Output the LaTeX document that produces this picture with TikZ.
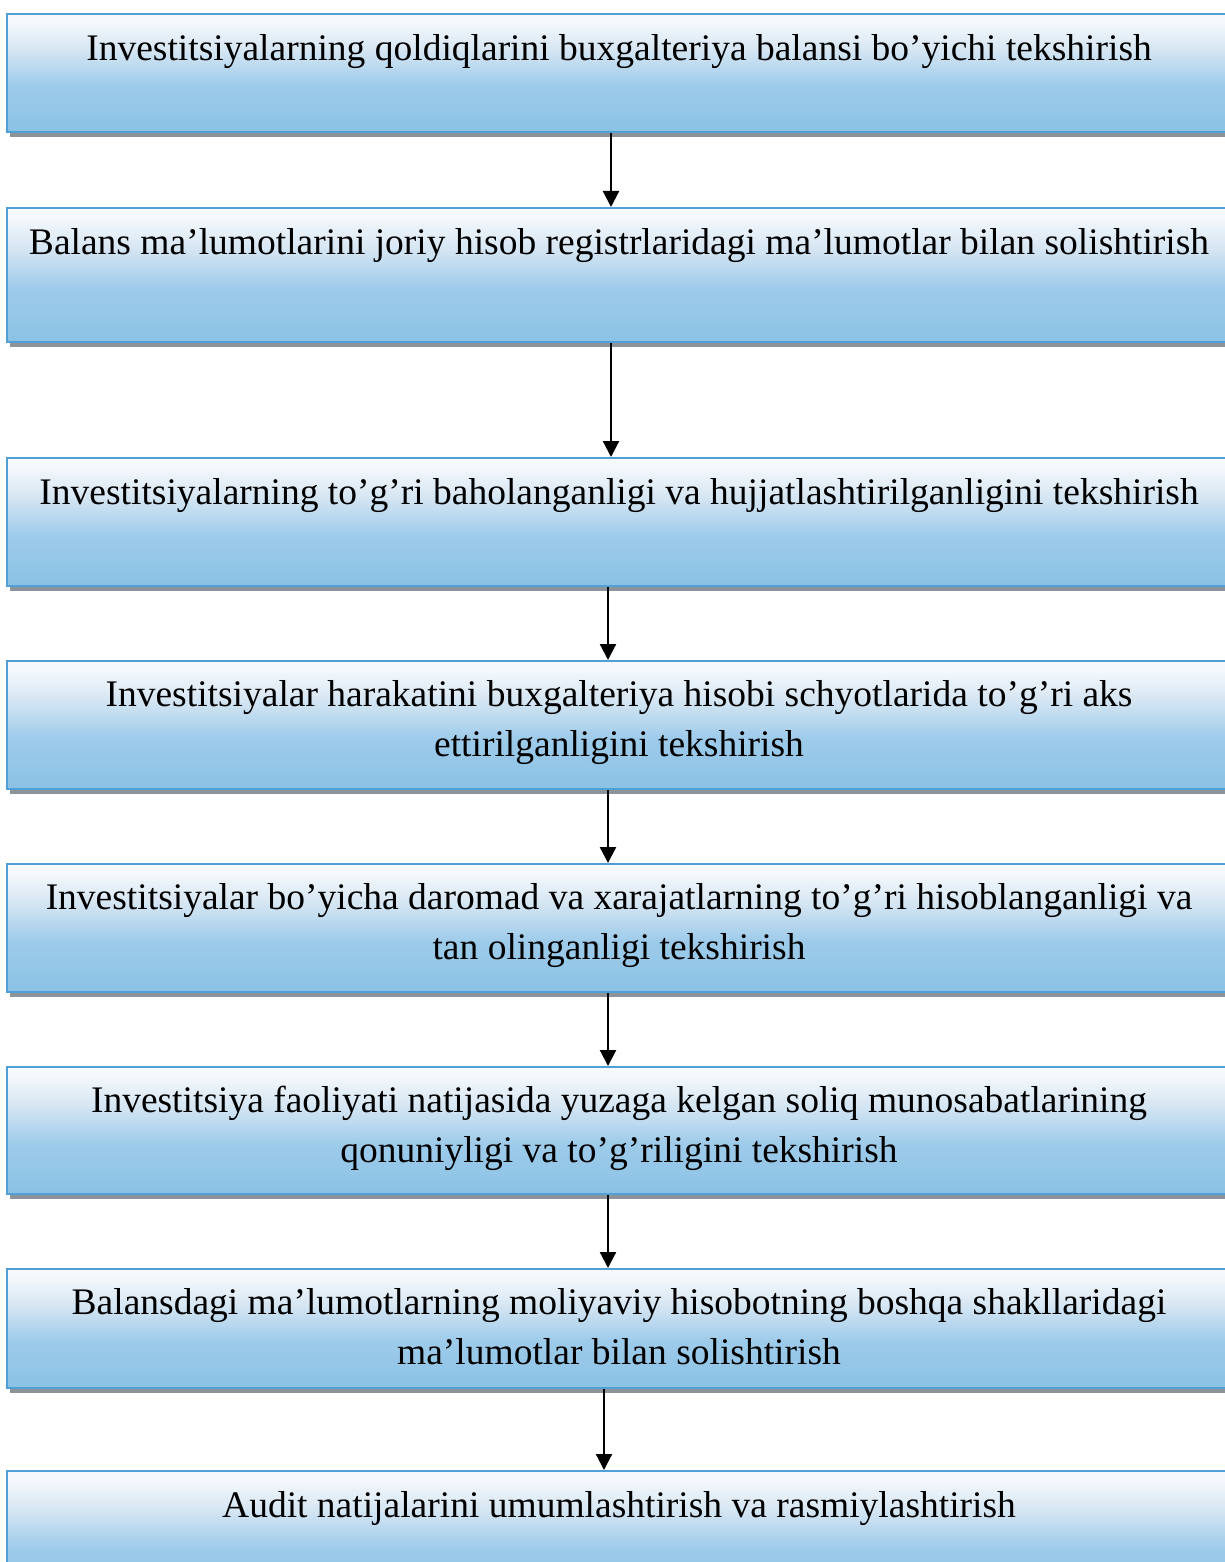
\documentclass[tikz,border=0pt]{standalone}
\usepackage{fontspec}
\setmainfont{Liberation Serif}
\usetikzlibrary{arrows.meta,shadows}
\definecolor{boxline}{RGB}{80,160,215}
\definecolor{shadowgray}{RGB}{140,148,153}
\definecolor{shA}{RGB}{139,194,229}
\definecolor{shB}{RGB}{158,203,234}
\definecolor{shC}{RGB}{214,230,243}
\definecolor{shD}{RGB}{246,249,252}
\definecolor{shE}{RGB}{252,253,254}
\pgfdeclareverticalshading{boxshade}{100bp}{color(0bp)=(shA); color(25bp)=(shA); color(45bp)=(shB); color(60bp)=(shC); color(72bp)=(shD); color(100bp)=(shE)}
\tikzset{
  box/.style={rectangle, draw=boxline, line width=2pt, shading=boxshade,
    minimum width=1224pt, inner sep=0pt, anchor=north,
    drop shadow={shadow xshift=3pt, shadow yshift=-5pt, fill=shadowgray, opacity=1}},
  txt/.style={anchor=north, inner sep=0pt, align=center,
    font=\fontsize{37.5}{50}\selectfont},
  arr/.style={draw=black, line width=2.2pt, -{Triangle[width=16pt,length=16pt]}}
}
\begin{document}
\begin{tikzpicture}[x=1pt,y=1pt]
\useasboundingbox (0,0) rectangle (1224,-1562);
\fill[white] (0,0) rectangle (1224,-1562);
% boxes
\node[box, minimum height=118pt] (b1) at (619,-13) {};
\node[box, minimum height=134pt] (b2) at (619,-207) {};
\node[box, minimum height=128pt] (b3) at (619,-457) {};
\node[box, minimum height=128pt] (b4) at (619,-660) {};
\node[box, minimum height=128pt] (b5) at (619,-863) {};
\node[box, minimum height=127pt] (b6) at (619,-1066) {};
\node[box, minimum height=119pt] (b7) at (619,-1268) {};
\node[box, minimum height=128pt] (b8) at (619,-1470) {};
% texts
\node[txt] (t1) at ([yshift=-21pt]b1.north) {Investitsiyalarning qoldiqlarini buxgalteriya balansi bo’yichi tekshirish};
\node[txt] (t2) at ([yshift=-21pt]b2.north) {Balans ma’lumotlarini joriy hisob registrlaridagi ma’lumotlar bilan solishtirish};
\node[txt] (t3) at ([yshift=-21pt]b3.north) {Investitsiyalarning to’g’ri baholanganligi va hujjatlashtirilganligini tekshirish};
\node[txt] (t4) at ([yshift=-20pt]b4.north) {Investitsiyalar harakatini buxgalteriya hisobi schyotlarida to’g’ri aks\\ettirilganligini tekshirish};
\node[txt] (t5) at ([yshift=-20pt]b5.north) {Investitsiyalar bo’yicha daromad va xarajatlarning to’g’ri hisoblanganligi va\\tan olinganligi tekshirish};
\node[txt] (t6) at ([yshift=-20pt]b6.north) {Investitsiya faoliyati natijasida yuzaga kelgan soliq munosabatlarining\\qonuniyligi va to’g’riligini tekshirish};
\node[txt] (t7) at ([yshift=-20pt]b7.north) {Balansdagi ma’lumotlarning moliyaviy hisobotning boshqa shakllaridagi\\ma’lumotlar bilan solishtirish};
\node[txt] (t8) at ([yshift=-21pt]b8.north) {Audit natijalarini umumlashtirish va rasmiylashtirish};
% arrows
\draw[arr] (b1.south -| 611,0) -- (b2.north -| 611,0);
\draw[arr] (b2.south -| 611,0) -- (b3.north -| 611,0);
\draw[arr] (b3.south -| 608,0) -- (b4.north -| 608,0);
\draw[arr] (b4.south -| 608,0) -- (b5.north -| 608,0);
\draw[arr] (b5.south -| 608,0) -- (b6.north -| 608,0);
\draw[arr] (b6.south -| 608,0) -- (b7.north -| 608,0);
\draw[arr] (b7.south -| 604,0) -- (b8.north -| 604,0);
\end{tikzpicture}
\end{document}
